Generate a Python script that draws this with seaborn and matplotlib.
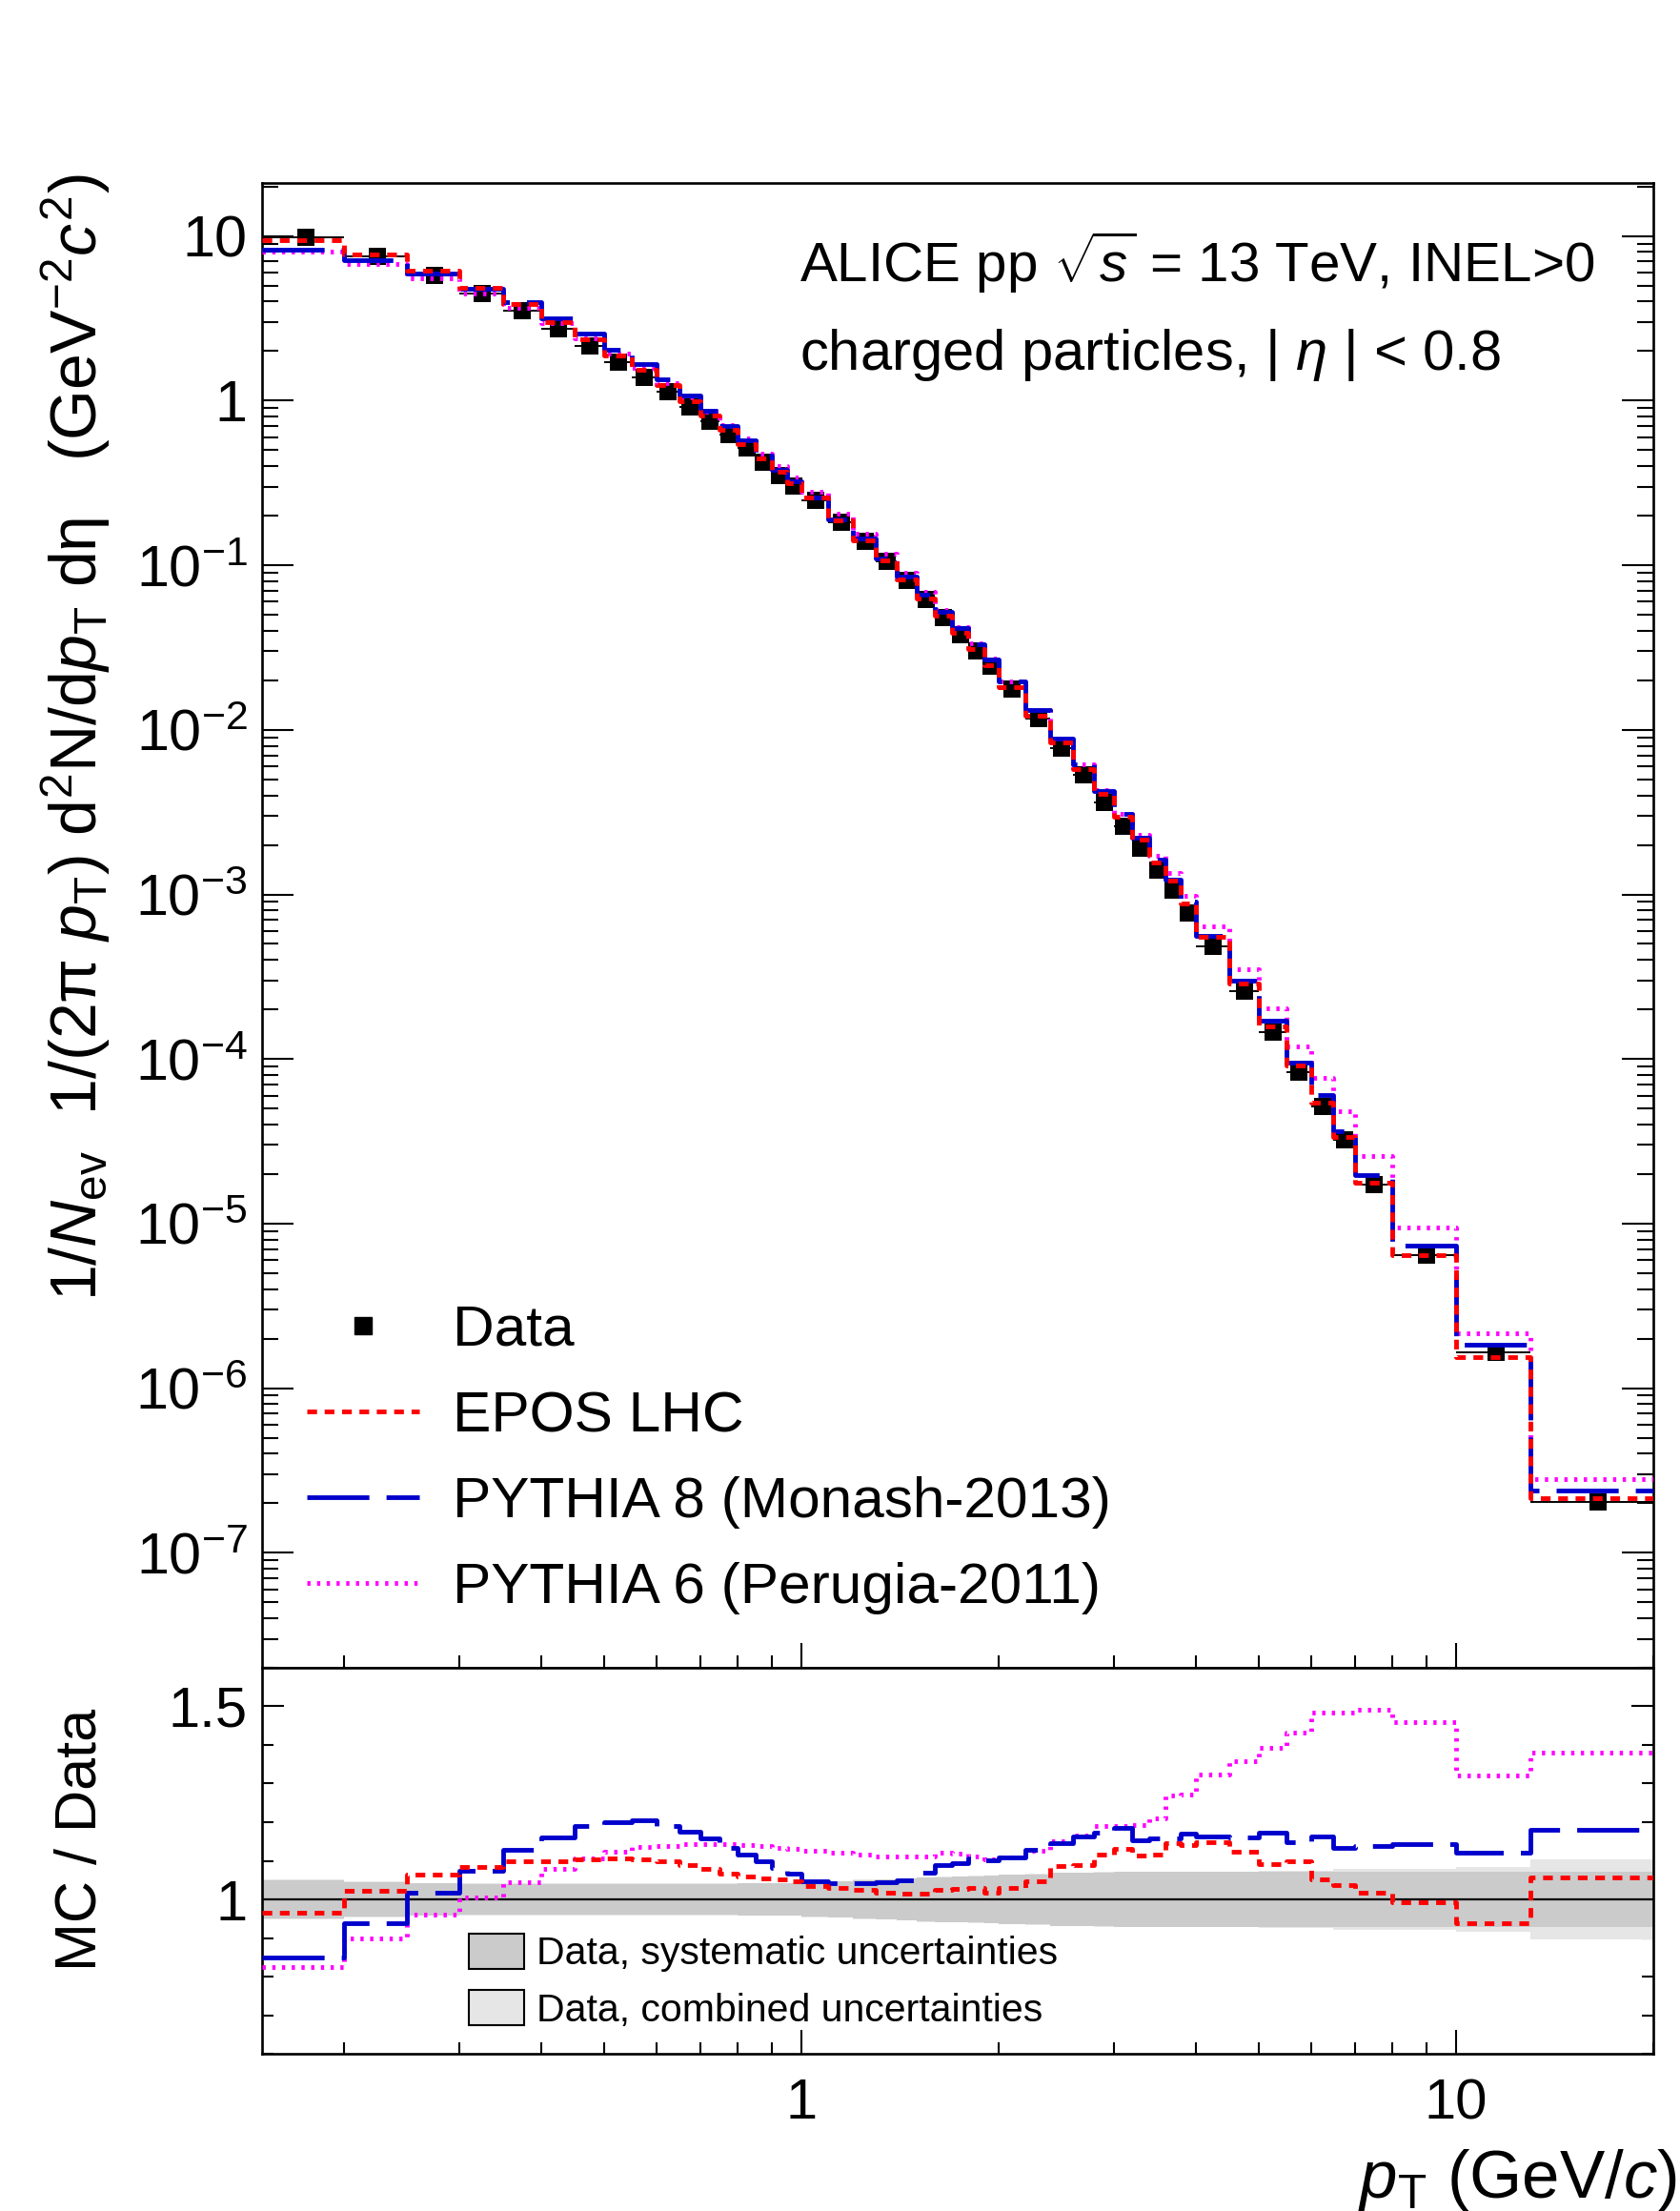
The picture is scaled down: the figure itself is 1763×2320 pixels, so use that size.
import numpy as np
import matplotlib
matplotlib.use("Agg")
import matplotlib.pyplot as plt
import seaborn as sns
from matplotlib.lines import Line2D
from matplotlib.patches import Patch
from matplotlib.ticker import FixedLocator, NullFormatter, FuncFormatter

# ---------------- data ----------------
pt_edges = [0.15, 0.2, 0.25, 0.3, 0.35, 0.4, 0.45, 0.5, 0.55, 0.6, 0.65, 0.7, 0.75, 0.8,
            0.85, 0.9, 0.95, 1.0, 1.1, 1.2, 1.3, 1.4, 1.5, 1.6, 1.7, 1.8, 1.9, 2.0,
            2.2, 2.4, 2.6, 2.8, 3.0, 3.2, 3.4, 3.6, 3.8, 4.0, 4.5, 5.0, 5.5, 6.0,
            6.5, 7.0, 8.0, 10.0, 13.0, 20.0]

data_vals = [9.78, 7.56, 5.80, 4.47, 3.50, 2.74, 2.15, 1.71, 1.39, 1.13, 0.915, 0.75,
             0.62, 0.514, 0.42, 0.353, 0.303, 0.248, 0.183, 0.139, 0.1054, 0.0809,
             0.0620, 0.0479, 0.0379, 0.0301, 0.0244, 0.0177, 0.01167, 0.00773,
             0.00531, 0.00364, 0.00261, 0.00192, 0.00141, 0.00106, 0.000775,
             0.000483, 0.000257, 0.000145, 8.3e-5, 5.16e-5, 3.23e-5, 1.73e-5,
             6.45e-6, 1.64e-6, 2.03e-7]

epos_ratio = [0.966, 1.022, 1.063, 1.084, 1.098, 1.098, 1.104, 1.107, 1.103, 1.098,
              1.088, 1.078, 1.066, 1.060, 1.055, 1.052, 1.047, 1.034, 1.030, 1.024,
              1.018, 1.016, 1.016, 1.025, 1.026, 1.030, 1.018, 1.029, 1.047, 1.086,
              1.090, 1.116, 1.132, 1.114, 1.116, 1.145, 1.141, 1.149, 1.123, 1.092,
              1.100, 1.051, 1.036, 1.018, 0.993, 0.938, 1.057]

pythia8_ratio = [0.850, 0.939, 1.018, 1.075, 1.128, 1.160, 1.190, 1.200, 1.205, 1.190,
                 1.175, 1.157, 1.133, 1.116, 1.098, 1.082, 1.067, 1.047, 1.043, 1.043,
                 1.044, 1.049, 1.069, 1.088, 1.094, 1.107, 1.102, 1.108, 1.129, 1.145,
                 1.164, 1.172, 1.186, 1.153, 1.157, 1.157, 1.171, 1.163, 1.160, 1.172,
                 1.147, 1.163, 1.134, 1.139, 1.143, 1.120, 1.180]

pythia6_ratio = [0.825, 0.898, 0.961, 1.004, 1.045, 1.078, 1.107, 1.123, 1.137, 1.139,
                 1.143, 1.143, 1.143, 1.141, 1.139, 1.133, 1.131, 1.125, 1.122, 1.116,
                 1.111, 1.110, 1.112, 1.120, 1.118, 1.110, 1.104, 1.108, 1.126, 1.151,
                 1.166, 1.190, 1.190, 1.193, 1.211, 1.268, 1.272, 1.324, 1.359, 1.393,
                 1.432, 1.485, 1.485, 1.491, 1.458, 1.320, 1.380]

sys_unc = [0.050, 0.045, 0.042, 0.040, 0.040, 0.040, 0.040, 0.040, 0.040, 0.040,
           0.040, 0.040, 0.040, 0.041, 0.041, 0.041, 0.042, 0.045, 0.047, 0.050,
           0.052, 0.054, 0.057, 0.058, 0.059, 0.060, 0.061, 0.063, 0.065, 0.068,
           0.069, 0.070, 0.071, 0.071, 0.071, 0.071, 0.071, 0.071, 0.071, 0.071,
           0.071, 0.071, 0.071, 0.071, 0.071, 0.071, 0.071]

tot_unc = [0.051, 0.046, 0.043, 0.041, 0.041, 0.041, 0.041, 0.041, 0.041, 0.041,
           0.041, 0.041, 0.041, 0.042, 0.042, 0.042, 0.043, 0.046, 0.048, 0.051,
           0.053, 0.055, 0.058, 0.059, 0.060, 0.061, 0.062, 0.064, 0.066, 0.069,
           0.070, 0.071, 0.072, 0.072, 0.072, 0.072, 0.072, 0.072, 0.072, 0.074,
           0.074, 0.075, 0.078, 0.078, 0.080, 0.084, 0.104]

series_labels = ["Data", "EPOS LHC", "PYTHIA 8 (Monash-2013)", "PYTHIA 6 (Perugia-2011)"]
band_labels = ["Data, systematic uncertainties", "Data, combined uncertainties"]

y_major_ticks = [1e-7, 1e-6, 1e-5, 1e-4, 1e-3, 1e-2, 1e-1, 1.0, 10.0]
x_major_ticks = [1, 10]
x_minor_ticks = [0.2, 0.3, 0.4, 0.5, 0.6, 0.7, 0.8, 0.9, 2, 3, 4, 5, 6, 7, 8, 9, 20]
r_major_ticks = [1.0, 1.5]
r_minor_ticks = [0.6, 0.7, 0.8, 0.9, 1.1, 1.2, 1.3, 1.4, 1.6]

# ---------------- style ----------------
sns.set_theme(style="ticks", rc={"axes.edgecolor": "black", "xtick.color": "black",
                                 "ytick.color": "black", "text.color": "black",
                                 "axes.labelcolor": "black", "axes.linewidth": 1.9})
plt.rcParams['font.family'] = ['Liberation Sans', 'DejaVu Sans']
plt.rcParams['mathtext.fontset'] = 'custom'
plt.rcParams['mathtext.rm'] = 'Liberation Sans'
plt.rcParams['mathtext.it'] = 'Liberation Sans:italic'
plt.rcParams['mathtext.bf'] = 'Liberation Sans:bold'
plt.rcParams['axes.unicode_minus'] = False

RED = "#ff0000"
BLUE = "#0000cc"
MAG = "#ff00ff"
LW = 3.5
LS_RED = (0, (2.1, 1.65))
LS_BLUE = (0, (13.4, 3.7))
LS_MAG = (0, (0.7, 1.4))
DARK = "#cbcbcb"
LIGHT = "#e6e6e6"

edges = np.array(pt_edges)
centers = 0.5 * (edges[:-1] + edges[1:])
halfw = 0.5 * (edges[1:] - edges[:-1])
data = np.array(data_vals)

YMIN, YMAX = 2e-8, 21

fig = plt.figure(figsize=(17.63, 23.20), dpi=100)
ax = fig.add_axes([0.156, 0.2457, 0.828, 0.6715])
axr = fig.add_axes([0.156, 0.0711, 0.828, 0.1746], sharex=ax)
for a in (ax, axr):
    a.set_xscale("log")
ax.set_yscale("log")


def step_line(a, vals, color, ls, z):
    y = np.append(vals, vals[-1])
    sns.lineplot(x=edges, y=y, ax=a, color=color, linestyle=ls, linewidth=LW,
                 drawstyle="steps-post", estimator=None, errorbar=None, sort=False,
                 legend=False, zorder=z)


# ---------------- main panel ----------------
ax.errorbar(centers, data, xerr=halfw, fmt="none", ecolor="black", elinewidth=1.4,
            capsize=0, zorder=3)
sns.scatterplot(x=centers, y=data, ax=ax, marker="s", s=185, color="black",
                edgecolor="black", linewidth=0, zorder=4, legend=False)
step_line(ax, data * np.array(pythia6_ratio), MAG, LS_MAG, 5)
step_line(ax, data * np.array(pythia8_ratio), BLUE, LS_BLUE, 6)
step_line(ax, data * np.array(epos_ratio), RED, LS_RED, 7)

ax.set_xlim(0.15, 20)
ax.set_ylim(YMIN, YMAX)
ax.set_xlabel("")
ax.set_ylabel("")


def ylab(v, pos):
    e = int(round(np.log10(v)))
    if e == 1:
        return "10"
    if e == 0:
        return "1"
    return r"$10^{%d}$" % e


y_minor = [m * d for d in [1e-8] + y_major_ticks for m in range(2, 10)
           if YMIN <= m * d <= YMAX]
ax.yaxis.set_major_locator(FixedLocator(y_major_ticks))
ax.yaxis.set_minor_locator(FixedLocator(y_minor))
ax.yaxis.set_major_formatter(FuncFormatter(ylab))
ax.yaxis.set_minor_formatter(NullFormatter())

for a in (ax, axr):
    a.xaxis.set_major_locator(FixedLocator(x_major_ticks))
    a.xaxis.set_minor_locator(FixedLocator(x_minor_ticks))
axr.xaxis.set_major_formatter(FuncFormatter(lambda v, p: "%g" % v))
axr.xaxis.set_minor_formatter(NullFormatter())

ax.tick_params(axis="both", which="both", direction="in", width=1.5, colors="black")
ax.tick_params(axis="y", which="major", length=24, left=True, right=True, labelsize=44, pad=11)
ax.tick_params(axis="y", which="minor", length=12, left=True, right=True)
ax.tick_params(axis="x", which="major", length=19, bottom=True, top=False, labelbottom=False)
ax.tick_params(axis="x", which="minor", length=9.5, bottom=True, top=False)

ax.text(0.476, 0.8724, r"ALICE pp $\sqrt{s}$ = 13 TeV, INEL>0", transform=fig.transFigure,
        fontsize=42, ha="left", va="baseline")
ax.text(0.476, 0.8328, r"charged particles, | $\eta$ | < 0.8", transform=fig.transFigure,
        fontsize=43, ha="left", va="baseline")

handles = [Line2D([], [], marker="s", color="black", ls="none", markersize=13.5),
           Line2D([], [], color=RED, ls=LS_RED, lw=LW),
           Line2D([], [], color=BLUE, ls=LS_BLUE, lw=LW),
           Line2D([], [], color=MAG, ls=LS_MAG, lw=LW)]
ax.legend(handles, series_labels, loc="upper left", bbox_to_anchor=(322 / 1763, 1 - 1369 / 2320),
          bbox_transform=fig.transFigure, frameon=False, fontsize=43.5, handlelength=1.95,
          handletextpad=0.58, labelspacing=0.58, borderpad=0, borderaxespad=0)

# ---------------- ratio panel ----------------
tot = np.array(tot_unc)
sysu = np.array(sys_unc)
axr.fill_between(edges, 1 - np.append(tot, tot[-1]), 1 + np.append(tot, tot[-1]),
                 step="post", color=LIGHT, lw=0, zorder=1)
axr.fill_between(edges, 1 - np.append(sysu, sysu[-1]), 1 + np.append(sysu, sysu[-1]),
                 step="post", color=DARK, lw=0, zorder=2)
axr.axhline(1.0, color="black", lw=1.6, zorder=3)
step_line(axr, pythia6_ratio, MAG, LS_MAG, 5)
step_line(axr, pythia8_ratio, BLUE, LS_BLUE, 6)
step_line(axr, epos_ratio, RED, LS_RED, 7)

axr.set_xlim(0.15, 20)
axr.set_ylim(0.6, 1.6)
axr.set_xlabel("")
axr.set_ylabel("")
axr.yaxis.set_major_locator(FixedLocator(r_major_ticks))
axr.yaxis.set_minor_locator(FixedLocator(r_minor_ticks))
axr.yaxis.set_major_formatter(FuncFormatter(lambda v, p: "%g" % v))
axr.yaxis.set_minor_formatter(NullFormatter())
axr.tick_params(axis="both", which="both", direction="in", width=1.5, colors="black")
axr.tick_params(axis="y", which="major", length=16.5, left=True, right=True, labelsize=43, pad=11)
axr.tick_params(axis="y", which="minor", length=8.6, left=True, right=True)
axr.tick_params(axis="x", which="major", length=18, bottom=True, top=False, labelsize=43, pad=18)
axr.tick_params(axis="x", which="minor", length=9, bottom=True, top=False)

bh = [Patch(facecolor=DARK, edgecolor="black", lw=1.5),
      Patch(facecolor=LIGHT, edgecolor="black", lw=1.5)]
axr.legend(bh, band_labels, loc="upper left", bbox_to_anchor=(492 / 1763, 1 - 2029 / 2320),
           bbox_transform=fig.transFigure, frameon=False, fontsize=29.5, handlelength=1.41,
           handleheight=1.0, handletextpad=0.32, labelspacing=0.46, borderpad=0, borderaxespad=0)

# ---------------- axis titles ----------------
fig.text(80 / 1763, 1 - 183 / 2320,
         r"1/$N_{\rm ev}$  1/(2π $p_{\rm T}$) d$^{2}$N/d$p_{\rm T}$ dη   (GeV$^{-2}$$c^{2}$)",
         rotation=90, ha="center", va="top", fontsize=49)
fig.text(86 / 1763, 1 - 1930 / 2320, "MC / Data", rotation=90, ha="center", va="center", fontsize=44)
fig.text(0.998, 0.0062, r"$p_{\rm T}$ (GeV/$c$)", ha="right", va="baseline", fontsize=51)

fig.savefig("out.png", dpi=100)
